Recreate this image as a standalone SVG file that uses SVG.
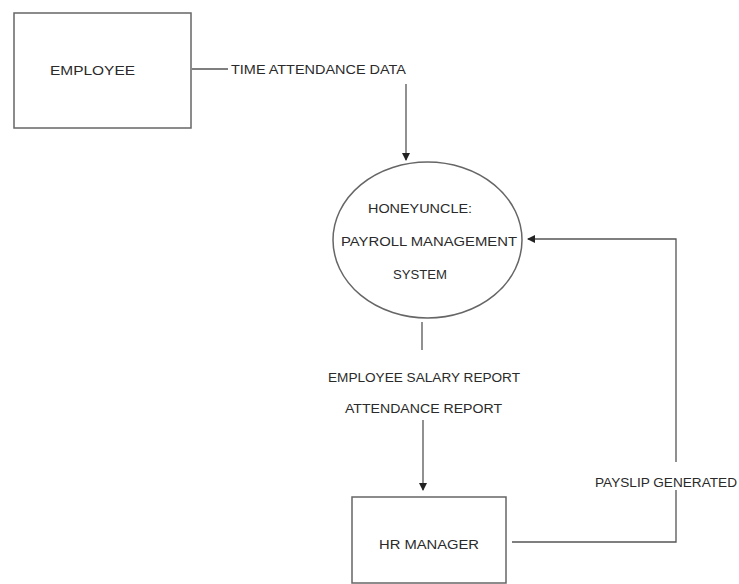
<svg xmlns="http://www.w3.org/2000/svg" width="739" height="584" viewBox="0 0 739 584">
<style>
.box{fill:#fff;stroke:#666;stroke-width:1.5}
.ln{fill:none;stroke:#555;stroke-width:1.3}
text{font-family:"Liberation Sans",Arial,sans-serif;font-size:12px;fill:#2a2a2a}
</style>
<defs>
<marker id="ah" markerWidth="8" markerHeight="8" refX="7" refY="4" orient="auto" markerUnits="userSpaceOnUse">
<path d="M0,0 L8,4 L0,8 z" fill="#222"/>
</marker>
</defs>
<rect width="739" height="584" fill="#fff"/>
<g id="connectors">
<line class="ln" x1="192" y1="69" x2="228" y2="69"/>
<text x="231" y="74" textLength="175" lengthAdjust="spacingAndGlyphs">TIME ATTENDANCE DATA</text>
<line class="ln" x1="406" y1="84" x2="406" y2="160" marker-end="url(#ah)"/>
<line class="ln" x1="422" y1="322" x2="422" y2="350"/>
<text x="328" y="382" textLength="192" lengthAdjust="spacingAndGlyphs">EMPLOYEE SALARY REPORT</text>
<text x="345" y="413" textLength="157" lengthAdjust="spacingAndGlyphs">ATTENDANCE REPORT</text>
<line class="ln" x1="423" y1="420" x2="423" y2="490" marker-end="url(#ah)"/>
<path class="ln" d="M512,542 H676 V490"/>
<text x="595" y="487" textLength="142" lengthAdjust="spacingAndGlyphs">PAYSLIP GENERATED</text>
<path class="ln" d="M676,462 V239 H528" marker-end="url(#ah)"/>
</g>
<g id="employee">
<rect class="box" x="14" y="13" width="177" height="115"/>
<text x="50" y="75" textLength="85" lengthAdjust="spacingAndGlyphs">EMPLOYEE</text>
</g>
<g id="payroll">
<ellipse class="box" cx="427.5" cy="240" rx="94.5" ry="78"/>
<text x="368" y="213" textLength="104" lengthAdjust="spacingAndGlyphs">HONEYUNCLE:</text>
<text x="341" y="246" textLength="176" lengthAdjust="spacingAndGlyphs">PAYROLL MANAGEMENT</text>
<text x="393" y="279" textLength="54" lengthAdjust="spacingAndGlyphs">SYSTEM</text>
</g>
<g id="hrmanager">
<rect class="box" x="352" y="497" width="154" height="86"/>
<text x="379" y="549" textLength="100" lengthAdjust="spacingAndGlyphs">HR MANAGER</text>
</g>
</svg>
